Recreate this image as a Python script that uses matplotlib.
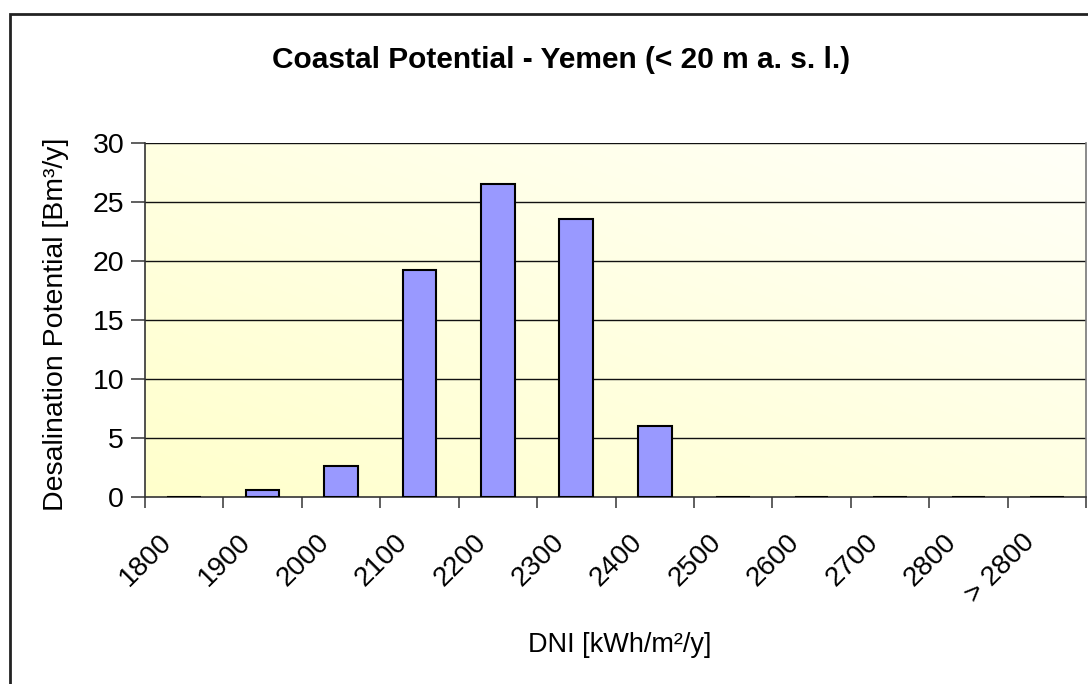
import numpy as np
import matplotlib
matplotlib.use("Agg")
from matplotlib import pyplot as plt
from matplotlib.colors import LinearSegmentedColormap
from matplotlib.patches import Rectangle
from matplotlib.transforms import ScaledTranslation

plt.rcParams['font.family'] = ['Liberation Sans', 'DejaVu Sans']

# data
categories = ["1800", "1900", "2000", "2100", "2200", "2300", "2400",
              "2500", "2600", "2700", "2800", "> 2800"]
potential = [0, 0.6, 2.65, 19.2, 26.5, 23.6, 6.0, 0, 0, 0, 0, 0]
y_ticks = [0, 5, 10, 15, 20, 25, 30]

W, H = 1088, 684
fig = plt.figure(figsize=(W / 100, H / 100), dpi=100)
fig.patch.set_facecolor("white")

# outer chart border (right / bottom edges run off the picture)
fig.patches.append(Rectangle((10 / W, -0.05), 1.2, 1 - 14 / H + 0.05,
                             transform=fig.transFigure, fill=False,
                             edgecolor="#222222", linewidth=2))

ax = fig.add_axes([145 / W, 1 - 497 / H, (1086 - 145) / W, (497 - 143) / H])

# plot area gradient: pale yellow lower left -> almost white upper right
cmap = LinearSegmentedColormap.from_list("bg", ["#FFFFCC", "#FFFFF8"])
gx, gy = np.meshgrid(np.linspace(0, 1, 200), np.linspace(0, 1, 200))
grad = (gx + gy) / 2
ax.imshow(grad, cmap=cmap, extent=[0, 1, 0, 1], transform=ax.transAxes,
          aspect="auto", origin="lower", zorder=0)

x = np.arange(len(categories))
ax.bar(x, potential, width=0.43, color="#9999FF", edgecolor="black",
       linewidth=1.5, zorder=3)

ax.set_xlim(-0.5, len(categories) - 0.5)
ax.set_ylim(0, 30)
ax.set_yticks(y_ticks)
for v in y_ticks[1:]:
    ax.axhline(v, color="#111111", linewidth=1.0, zorder=1)

ax.set_xticks(x)
ax.set_xticklabels(categories, rotation=45, ha="right", va="center",
                   rotation_mode="anchor")
ax.set_xticks(np.arange(len(categories) + 1) - 0.5, minor=True)
ax.tick_params(axis="x", which="major", length=0, pad=30, labelsize=20)
ax.tick_params(axis="x", which="minor", length=8, width=1.2, color="#444444")
ax.tick_params(axis="y", length=10, width=1.2, color="#444444", pad=5,
               labelsize=20.5)
shift = ScaledTranslation(-16 / 100, 0, fig.dpi_scale_trans)
for lbl in ax.get_xticklabels():
    lbl.set_transform(lbl.get_transform() + shift)

for s in ["left", "bottom"]:
    ax.spines[s].set_color("#333333")
    ax.spines[s].set_linewidth(1.2)
ax.spines["top"].set_visible(False)
ax.spines["right"].set_color("#777777")
ax.spines["right"].set_linewidth(1.2)

fig.text(561 / W, 1 - 60 / H, "Coastal Potential - Yemen (< 20 m a. s. l.)",
         ha="center", va="center", fontsize=21.5, fontweight="bold")
fig.text(56 / W, 1 - 324 / H, "Desalination Potential [Bm³/y]",
         ha="center", va="center", rotation=90, fontsize=20.5)
fig.text(620 / W, 1 - 645 / H, "DNI [kWh/m²/y]",
         ha="center", va="center", fontsize=19.5)

fig.savefig("out.png", dpi=100)
